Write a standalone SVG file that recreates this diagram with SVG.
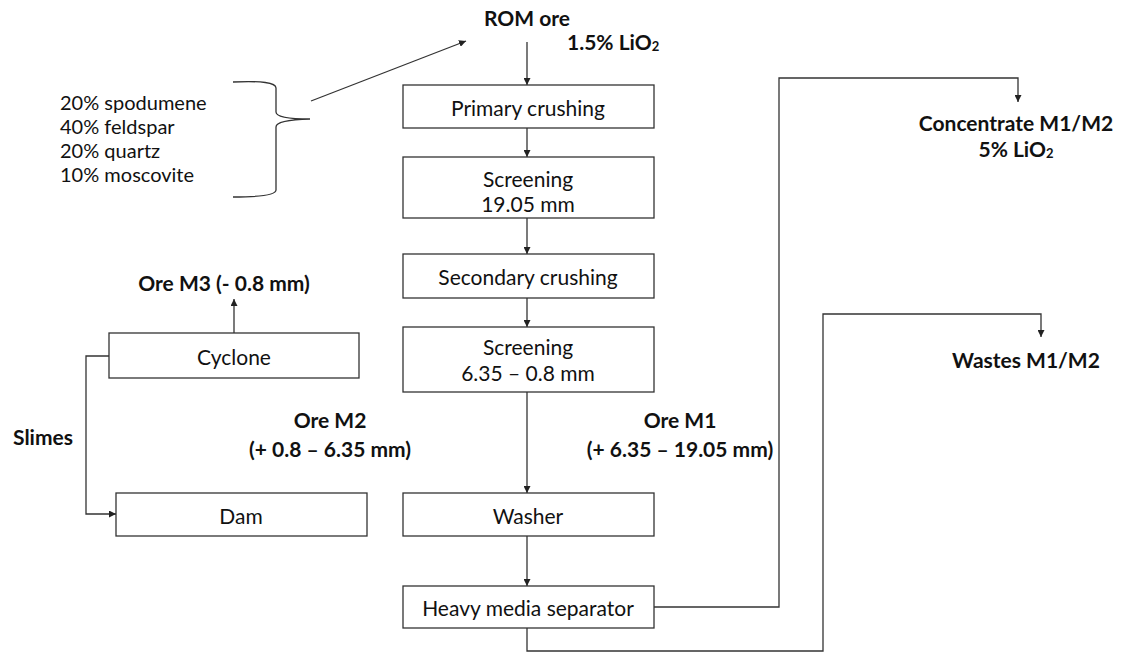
<svg xmlns="http://www.w3.org/2000/svg" width="1125" height="653" viewBox="0 0 1125 653">
<defs>
<marker id="ah" viewBox="0 0 10 10" refX="10" refY="5" markerWidth="7" markerHeight="7" markerUnits="userSpaceOnUse" orient="auto">
<path d="M0,0 L10,5 L0,10 z" fill="#222"/>
</marker>
<style>
.box{fill:#fff;stroke:#333;stroke-width:1.3}
.ln{fill:none;stroke:#333;stroke-width:1.3}
.t{font-family:Lato,"Liberation Sans",sans-serif;font-size:21px;fill:#111;text-anchor:middle;dominant-baseline:central}
.b{font-family:Lato,"Liberation Sans",sans-serif;font-size:21px;font-weight:bold;fill:#111;text-anchor:middle;dominant-baseline:central}
.bs{font-family:Lato,"Liberation Sans",sans-serif;font-size:21px;font-weight:bold;fill:#111;text-anchor:start;dominant-baseline:central}
.l{font-family:Lato,"Liberation Sans",sans-serif;font-size:20px;fill:#111;text-anchor:start;dominant-baseline:central}
.sub{font-size:13px}
</style>
</defs>
<rect width="1125" height="653" fill="#fff"/>
<g id="connectors">
<line class="ln" x1="527" y1="42" x2="527" y2="85" marker-end="url(#ah)"/>
<line class="ln" x1="527" y1="128" x2="527" y2="157" marker-end="url(#ah)"/>
<line class="ln" x1="527" y1="218" x2="527" y2="254" marker-end="url(#ah)"/>
<line class="ln" x1="527" y1="298" x2="527" y2="327" marker-end="url(#ah)"/>
<line class="ln" x1="527" y1="392" x2="527" y2="493" marker-end="url(#ah)"/>
<line class="ln" x1="527" y1="536" x2="527" y2="586" marker-end="url(#ah)"/>
<polyline class="ln" points="654,607 779,607 779,78 1018,78 1018,102" marker-end="url(#ah)"/>
<polyline class="ln" points="527,628 527,651 823,651 823,314 1041,314 1041,337" marker-end="url(#ah)"/>
<line class="ln" x1="234" y1="333" x2="234" y2="299" marker-end="url(#ah)"/>
<polyline class="ln" points="109,356 86,356 86,514 116,514" marker-end="url(#ah)"/>
<line class="ln" x1="311" y1="101" x2="466" y2="41" marker-end="url(#ah)"/>
<path class="ln" d="M233,82 Q276,80 276,88 L276,112 Q276,119 310,119 Q276,120 276,127 L276,190 Q276,197 233,197"/>
</g>
<g id="composition">
<text class="l" x="60" y="102">20% spodumene</text>
<text class="l" x="60" y="126">40% feldspar</text>
<text class="l" x="60" y="150">20% quartz</text>
<text class="l" x="60" y="174">10% moscovite</text>
</g>
<g id="rom">
<text class="b" x="527" y="17">ROM ore</text>
<text class="bs" x="567" y="41">1.5% LiO<tspan class="sub" dy="5">2</tspan></text>
</g>
<g id="primary"><rect class="box" x="403" y="85" width="251" height="43"/><text class="t" x="528" y="107">Primary crushing</text></g>
<g id="screen1"><rect class="box" x="403" y="157" width="251" height="61"/><text class="t" x="528" y="178">Screening</text><text class="t" x="528" y="203">19.05 mm</text></g>
<g id="secondary"><rect class="box" x="403" y="254" width="251" height="44"/><text class="t" x="528" y="276">Secondary crushing</text></g>
<g id="screen2"><rect class="box" x="403" y="327" width="251" height="65"/><text class="t" x="528" y="346">Screening</text><text class="t" x="528" y="372">6.35 – 0.8 mm</text></g>
<g id="washer"><rect class="box" x="403" y="493" width="251" height="43"/><text class="t" x="528" y="515">Washer</text></g>
<g id="hms"><rect class="box" x="403" y="586" width="251" height="42"/><text class="t" x="528" y="607">Heavy media separator</text></g>
<g id="cyclone"><rect class="box" x="109" y="333" width="250" height="45"/><text class="t" x="234" y="356">Cyclone</text></g>
<g id="dam"><rect class="box" x="116" y="493" width="251" height="43"/><text class="t" x="241" y="515">Dam</text></g>
<g id="orem3"><text class="b" x="224" y="282">Ore M3 (- 0.8 mm)</text></g>
<g id="slimes"><text class="b" x="43" y="436">Slimes</text></g>
<g id="orem2"><text class="b" x="330" y="419">Ore M2</text><text class="b" x="330" y="448">(+ 0.8 – 6.35 mm)</text></g>
<g id="orem1"><text class="b" x="680" y="419">Ore M1</text><text class="b" x="680" y="448">(+ 6.35 – 19.05 mm)</text></g>
<g id="concentrate"><text class="b" x="1016" y="122">Concentrate M1/M2</text><text class="b" x="1016" y="148">5% LiO<tspan class="sub" dy="5">2</tspan></text></g>
<g id="wastes"><text class="b" x="1026" y="359">Wastes M1/M2</text></g>
</svg>
